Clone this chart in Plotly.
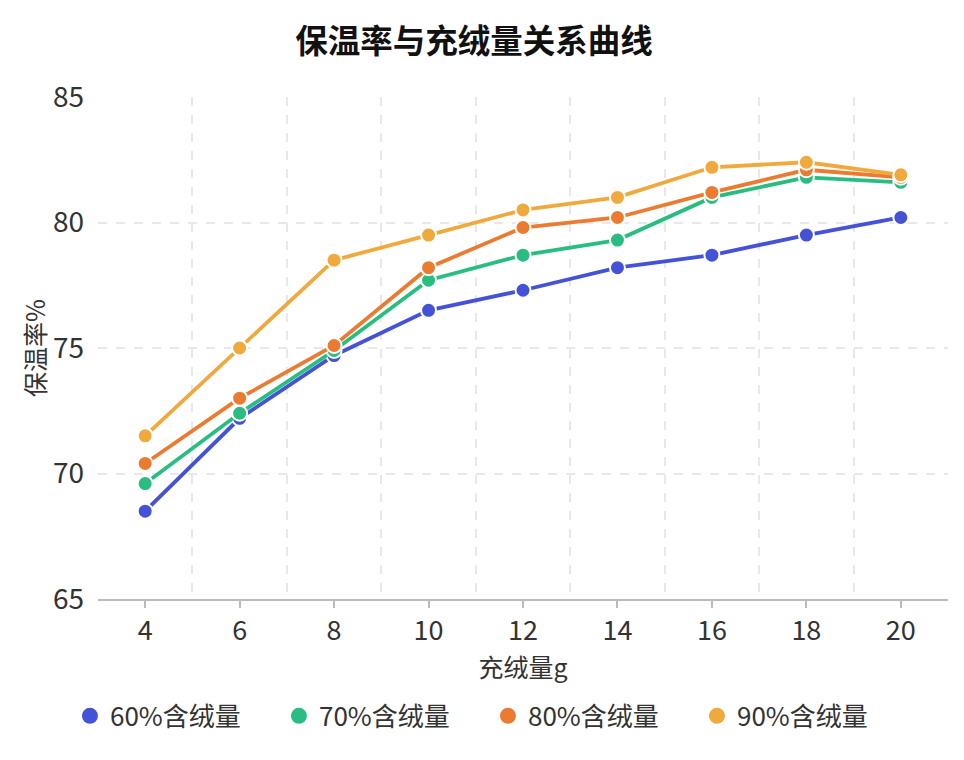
import plotly.graph_objects as go

x_vals = [4, 6, 8, 10, 12, 14, 16, 18, 20]
s60 = [68.5, 72.2, 74.7, 76.5, 77.3, 78.2, 78.7, 79.5, 80.2]
s70 = [69.6, 72.4, 74.9, 77.7, 78.7, 79.3, 81.0, 81.8, 81.6]
s80 = [70.4, 73.0, 75.1, 78.2, 79.8, 80.2, 81.2, 82.1, 81.8]
s90 = [71.5, 75.0, 78.5, 79.5, 80.5, 81.0, 82.2, 82.4, 81.9]
names = ["60%含绒量", "70%含绒量", "80%含绒量", "90%含绒量"]
colors = ["#4352d6", "#29bd82", "#ec7b32", "#f0a93d"]

FONT = "Noto Sans CJK SC"
fig = go.Figure()
for ys, nm, c in zip([s60, s70, s80, s90], names, colors):
    fig.add_trace(go.Scatter(
        x=x_vals, y=ys, name=nm, mode="lines+markers",
        line=dict(color=c, width=3.8),
        marker=dict(color=c, size=15, line=dict(color="white", width=2)),
        showlegend=False,
    ))
for nm, c in zip(names, colors):
    fig.add_trace(go.Scatter(
        x=[None], y=[None], name=nm, mode="markers",
        marker=dict(color=c, size=24),
    ))

W, H = 956, 752
fig.update_layout(
    width=W, height=H,
    margin=dict(l=90, r=16, t=89, b=161),
    paper_bgcolor="white", plot_bgcolor="white",
    font=dict(family=FONT, color="#333333"),
    title=dict(text="<b>保温率与充绒量关系曲线</b>", x=(474 - 8) / W, xanchor="center",
               y=1 - 34 / H, yref="container", yanchor="middle",
               font=dict(size=32.5, color="#111111", family=FONT)),
    legend=dict(orientation="h", x=-0.033, xanchor="left", y=-0.233, yanchor="middle",
                font=dict(size=26, color="#333333", family=FONT),
                itemsizing="trace", itemwidth=30, tracegroupgap=0,
                entrywidth=164, entrywidthmode="pixels"),
    xaxis=dict(range=[3.001, 20.999], tickmode="linear", tick0=4, dtick=2,
               showgrid=False, showline=True, linecolor="#bbbbbb", linewidth=2,
               ticks="outside", ticklen=7, tickcolor="#bbbbbb", tickwidth=2,
               tickfont=dict(size=27, color="#333333"),
               minor=dict(dtick=1, tick0=3, showgrid=True, gridcolor="#e8e8e8",
                          griddash="dash", gridwidth=1.5),
               title=dict(text="充绒量g", font=dict(size=25, color="#333333"), standoff=0),
               zeroline=False),
    yaxis=dict(range=[65, 85], tickmode="linear", tick0=65, dtick=5,
               showgrid=True, gridcolor="#e8e8e8", griddash="dash", gridwidth=1.5,
               showline=False, zeroline=False, ticks="", ticklabelstandoff=13,
               tickfont=dict(size=28, color="#333333"),
               title=dict(text="保温率%", font=dict(size=25, color="#333333"), standoff=0)),
)
fig.write_html("out.html")
